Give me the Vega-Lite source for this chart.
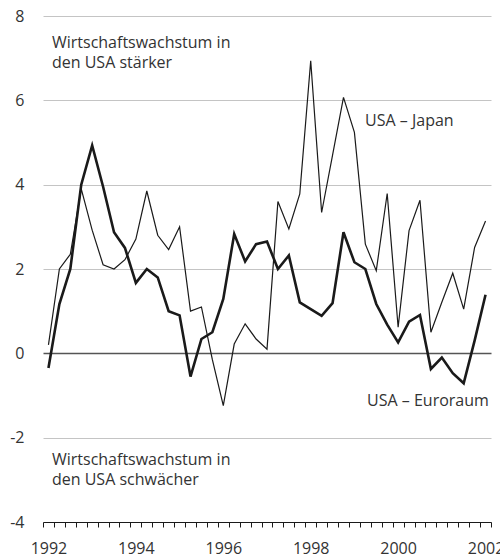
{
  "$schema": "https://vega.github.io/schema/vega-lite/v6.json",
  "autosize": {"type": "none"},
  "width": 448,
  "height": 506,
  "padding": {"left": 43, "top": 16, "right": 9, "bottom": 35},
  "config": {"view": {"stroke": null}, "font": "Open Sans"},
  "datasets": {
    "series": [
      {"t": 1992.0, "s": "Japan", "v": 0.2}, {"t": 1992.25, "s": "Japan", "v": 2.0}, {"t": 1992.5, "s": "Japan", "v": 2.35}, {"t": 1992.75, "s": "Japan", "v": 3.9},
      {"t": 1993.0, "s": "Japan", "v": 2.92}, {"t": 1993.25, "s": "Japan", "v": 2.1}, {"t": 1993.5, "s": "Japan", "v": 2.0}, {"t": 1993.75, "s": "Japan", "v": 2.22},
      {"t": 1994.0, "s": "Japan", "v": 2.71}, {"t": 1994.25, "s": "Japan", "v": 3.85}, {"t": 1994.5, "s": "Japan", "v": 2.8}, {"t": 1994.75, "s": "Japan", "v": 2.46},
      {"t": 1995.0, "s": "Japan", "v": 3.0}, {"t": 1995.25, "s": "Japan", "v": 1.0}, {"t": 1995.5, "s": "Japan", "v": 1.1}, {"t": 1995.75, "s": "Japan", "v": -0.15},
      {"t": 1996.0, "s": "Japan", "v": -1.24}, {"t": 1996.25, "s": "Japan", "v": 0.22}, {"t": 1996.5, "s": "Japan", "v": 0.7}, {"t": 1996.75, "s": "Japan", "v": 0.34},
      {"t": 1997.0, "s": "Japan", "v": 0.1}, {"t": 1997.25, "s": "Japan", "v": 3.6}, {"t": 1997.5, "s": "Japan", "v": 2.95}, {"t": 1997.75, "s": "Japan", "v": 3.78},
      {"t": 1998.0, "s": "Japan", "v": 6.94}, {"t": 1998.25, "s": "Japan", "v": 3.34}, {"t": 1998.5, "s": "Japan", "v": 4.7}, {"t": 1998.75, "s": "Japan", "v": 6.07},
      {"t": 1999.0, "s": "Japan", "v": 5.24}, {"t": 1999.25, "s": "Japan", "v": 2.59}, {"t": 1999.5, "s": "Japan", "v": 1.96}, {"t": 1999.75, "s": "Japan", "v": 3.79},
      {"t": 2000.0, "s": "Japan", "v": 0.62}, {"t": 2000.25, "s": "Japan", "v": 2.91}, {"t": 2000.5, "s": "Japan", "v": 3.63}, {"t": 2000.75, "s": "Japan", "v": 0.5},
      {"t": 2001.0, "s": "Japan", "v": 1.21}, {"t": 2001.25, "s": "Japan", "v": 1.9}, {"t": 2001.5, "s": "Japan", "v": 1.05}, {"t": 2001.75, "s": "Japan", "v": 2.51},
      {"t": 2002.0, "s": "Japan", "v": 3.14},
      {"t": 1992.0, "s": "Euro", "v": -0.35}, {"t": 1992.25, "s": "Euro", "v": 1.17}, {"t": 1992.5, "s": "Euro", "v": 2.0}, {"t": 1992.75, "s": "Euro", "v": 4.0},
      {"t": 1993.0, "s": "Euro", "v": 4.93}, {"t": 1993.25, "s": "Euro", "v": 3.95}, {"t": 1993.5, "s": "Euro", "v": 2.87}, {"t": 1993.75, "s": "Euro", "v": 2.5},
      {"t": 1994.0, "s": "Euro", "v": 1.67}, {"t": 1994.25, "s": "Euro", "v": 2.0}, {"t": 1994.5, "s": "Euro", "v": 1.8}, {"t": 1994.75, "s": "Euro", "v": 1.0},
      {"t": 1995.0, "s": "Euro", "v": 0.9}, {"t": 1995.25, "s": "Euro", "v": -0.55}, {"t": 1995.5, "s": "Euro", "v": 0.34}, {"t": 1995.75, "s": "Euro", "v": 0.5},
      {"t": 1996.0, "s": "Euro", "v": 1.29}, {"t": 1996.25, "s": "Euro", "v": 2.83}, {"t": 1996.5, "s": "Euro", "v": 2.18}, {"t": 1996.75, "s": "Euro", "v": 2.59},
      {"t": 1997.0, "s": "Euro", "v": 2.65}, {"t": 1997.25, "s": "Euro", "v": 2.0}, {"t": 1997.5, "s": "Euro", "v": 2.32}, {"t": 1997.75, "s": "Euro", "v": 1.21},
      {"t": 1998.0, "s": "Euro", "v": 1.05}, {"t": 1998.25, "s": "Euro", "v": 0.89}, {"t": 1998.5, "s": "Euro", "v": 1.19}, {"t": 1998.75, "s": "Euro", "v": 2.87},
      {"t": 1999.0, "s": "Euro", "v": 2.16}, {"t": 1999.25, "s": "Euro", "v": 2.0}, {"t": 1999.5, "s": "Euro", "v": 1.17}, {"t": 1999.75, "s": "Euro", "v": 0.68},
      {"t": 2000.0, "s": "Euro", "v": 0.26}, {"t": 2000.25, "s": "Euro", "v": 0.75}, {"t": 2000.5, "s": "Euro", "v": 0.91}, {"t": 2000.75, "s": "Euro", "v": -0.37},
      {"t": 2001.0, "s": "Euro", "v": -0.1}, {"t": 2001.25, "s": "Euro", "v": -0.47}, {"t": 2001.5, "s": "Euro", "v": -0.71}, {"t": 2001.75, "s": "Euro", "v": 0.3},
      {"t": 2002.0, "s": "Euro", "v": 1.39}
    ],
    "notes": [
      {"t": 1992.08, "v": 7.24, "label": "Wirtschaftswachstum in\nden USA stärker"},
      {"t": 1999.245, "v": 5.38, "label": "USA – Japan"},
      {"t": 1999.29, "v": -1.24, "label": "USA – Euroraum"},
      {"t": 1992.08, "v": -2.65, "label": "Wirtschaftswachstum in\nden USA schwächer"}
    ]
  },
  "encoding": {
    "x": {
      "field": "t", "type": "quantitative",
      "scale": {"domain": [1991.875, 2002.125], "nice": false, "zero": false},
      "axis": {
        "title": null, "grid": false,
        "values": [1991.875, 1992.125, 1992.375, 1992.625, 1992.875, 1993.125, 1993.375, 1993.625, 1993.875, 1994.125, 1994.375, 1994.625, 1994.875, 1995.125, 1995.375, 1995.625, 1995.875, 1996.125, 1996.375, 1996.625, 1996.875, 1997.125, 1997.375, 1997.625, 1997.875, 1998.125, 1998.375, 1998.625, 1998.875, 1999.125, 1999.375, 1999.625, 1999.875, 2000.125, 2000.375, 2000.625, 2000.875, 2001.125, 2001.375, 2001.625, 2001.875, 2002.125],
        "labelExpr": "(datum.value + 0.125) % 2 === 0 ? '' + (datum.value + 0.125) : ''",
        "labelOffset": 5.46,
        "labelOverlap": false, "labelFlush": false, "labelBound": false,
        "labelFontSize": 16, "labelColor": "#333333", "labelPadding": 13,
        "domainColor": "#1a1a1a", "domainWidth": 1.2,
        "tickColor": "#1a1a1a", "tickSize": 5, "tickWidth": 1
      }
    },
    "y": {
      "field": "v", "type": "quantitative",
      "scale": {"domain": [-4, 8], "nice": false, "zero": false},
      "axis": {
        "title": null, "values": [-4, -2, 0, 2, 4, 6, 8],
        "labelExpr": "'' + datum.value",
        "domain": false, "ticks": false,
        "labelFontSize": 16, "labelColor": "#333333", "labelPadding": 19,
        "gridColor": {"condition": {"test": "datum.value === 0", "value": "#555555"}, "value": "#c4c4c4"},
        "gridWidth": {"condition": {"test": "datum.value === 0", "value": 1.6}, "value": 1}
      }
    }
  },
  "layer": [
    {
      "data": {"name": "series"},
      "transform": [{"filter": "datum.s === 'Japan'"}],
      "mark": {"type": "line", "color": "#1a1a1a", "strokeWidth": 1.2}
    },
    {
      "data": {"name": "series"},
      "transform": [{"filter": "datum.s === 'Euro'"}],
      "mark": {"type": "line", "color": "#1a1a1a", "strokeWidth": 2.6}
    },
    {
      "data": {"name": "notes"},
      "mark": {"type": "text", "align": "left", "baseline": "alphabetic", "fontSize": 16, "color": "#333333", "lineBreak": "\n", "lineHeight": 20},
      "encoding": {"text": {"field": "label"}}
    }
  ]
}
